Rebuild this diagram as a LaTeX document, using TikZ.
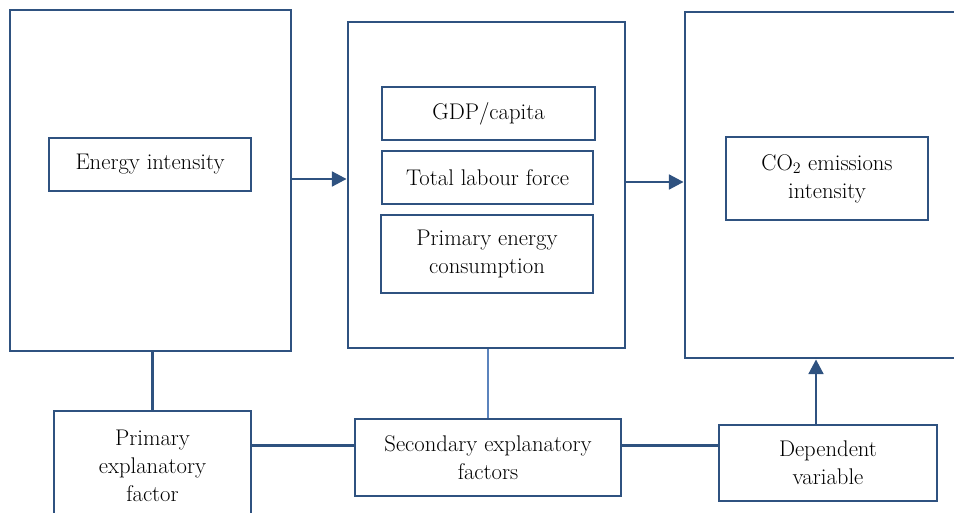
\documentclass[tikz,border=0pt]{standalone}
\usepackage{amsmath}
\usepackage{tikz}
\usetikzlibrary{arrows.meta}

\definecolor{frame}{RGB}{47,82,128}
\definecolor{thinline}{RGB}{91,131,189}

\tikzset{
    panel/.style={draw=frame, line width=2.1pt, inner sep=0pt},
    label/.style={draw=frame, line width=2.1pt, align=center, inner sep=2pt,
        font=\fontsize{17}{21}\selectfont},
    link/.style={frame, line width=2.1pt},
    flow/.style={link, -{Triangle[length=11pt,width=11pt]}}
}

\begin{document}
\begin{tikzpicture}[x=0.75pt, y=-0.75pt]
\useasboundingbox (0,0) rectangle (954,513);
\clip (0,0) rectangle (954,513);

% three big panels
\node[panel, minimum width=281*0.75pt, minimum height=341*0.75pt] (leftpanel) at (150.5,180.5) {};
\node[panel, minimum width=277*0.75pt, minimum height=326*0.75pt] (midpanel) at (486.5,185) {};
\node[panel, minimum width=300*0.75pt, minimum height=346*0.75pt] (rightpanel) at (835,185) {};

% contents of the panels
\node[label, minimum width=202*0.75pt, minimum height=53*0.75pt] (energy) at (150,164.5) {Energy intensity};
\node[label, minimum width=213*0.75pt, minimum height=53*0.75pt] (gdp) at (488.5,113.5) {GDP/capita};
\node[label, minimum width=211*0.75pt, minimum height=53*0.75pt] (labour) at (487.5,177.5) {Total labour force};
\node[label, minimum width=212*0.75pt, minimum height=78*0.75pt] (primen) at (487,254) {Primary energy\\consumption};
\node[label, minimum width=202*0.75pt, minimum height=83*0.75pt] (co2) at (827,178.5) {CO$_2$ emissions\\intensity};

% factor boxes along the bottom
\node[label, minimum width=197*0.75pt, minimum height=110*0.75pt] (primfac) at (152.5,466) {Primary\\explanatory\\factor};
\node[label, minimum width=266*0.75pt, minimum height=77*0.75pt] (secfac) at (488,457.5) {Secondary explanatory\\factors};
\node[label, minimum width=218*0.75pt, minimum height=76*0.75pt] (depvar) at (828,463) {Dependent\\variable};

% connectors
\draw[flow] (leftpanel.east |- 0,179) -- (midpanel.west |- 0,179);
\draw[flow] (midpanel.east |- 0,182) -- (rightpanel.west |- 0,182);
\draw[link] (primfac.north |- leftpanel.south) -- (primfac.north);
\draw[link] (primfac.east |- secfac.175) -- (secfac.175);
\draw[link] (secfac.5) -- (secfac.5 -| depvar.west);
\draw[thinline, line width=0.9pt] (secfac.north |- midpanel.south) -- (secfac.north);
\draw[flow] (depvar.north -| 816,0) -- (rightpanel.south -| 816,0);
\end{tikzpicture}
\end{document}
